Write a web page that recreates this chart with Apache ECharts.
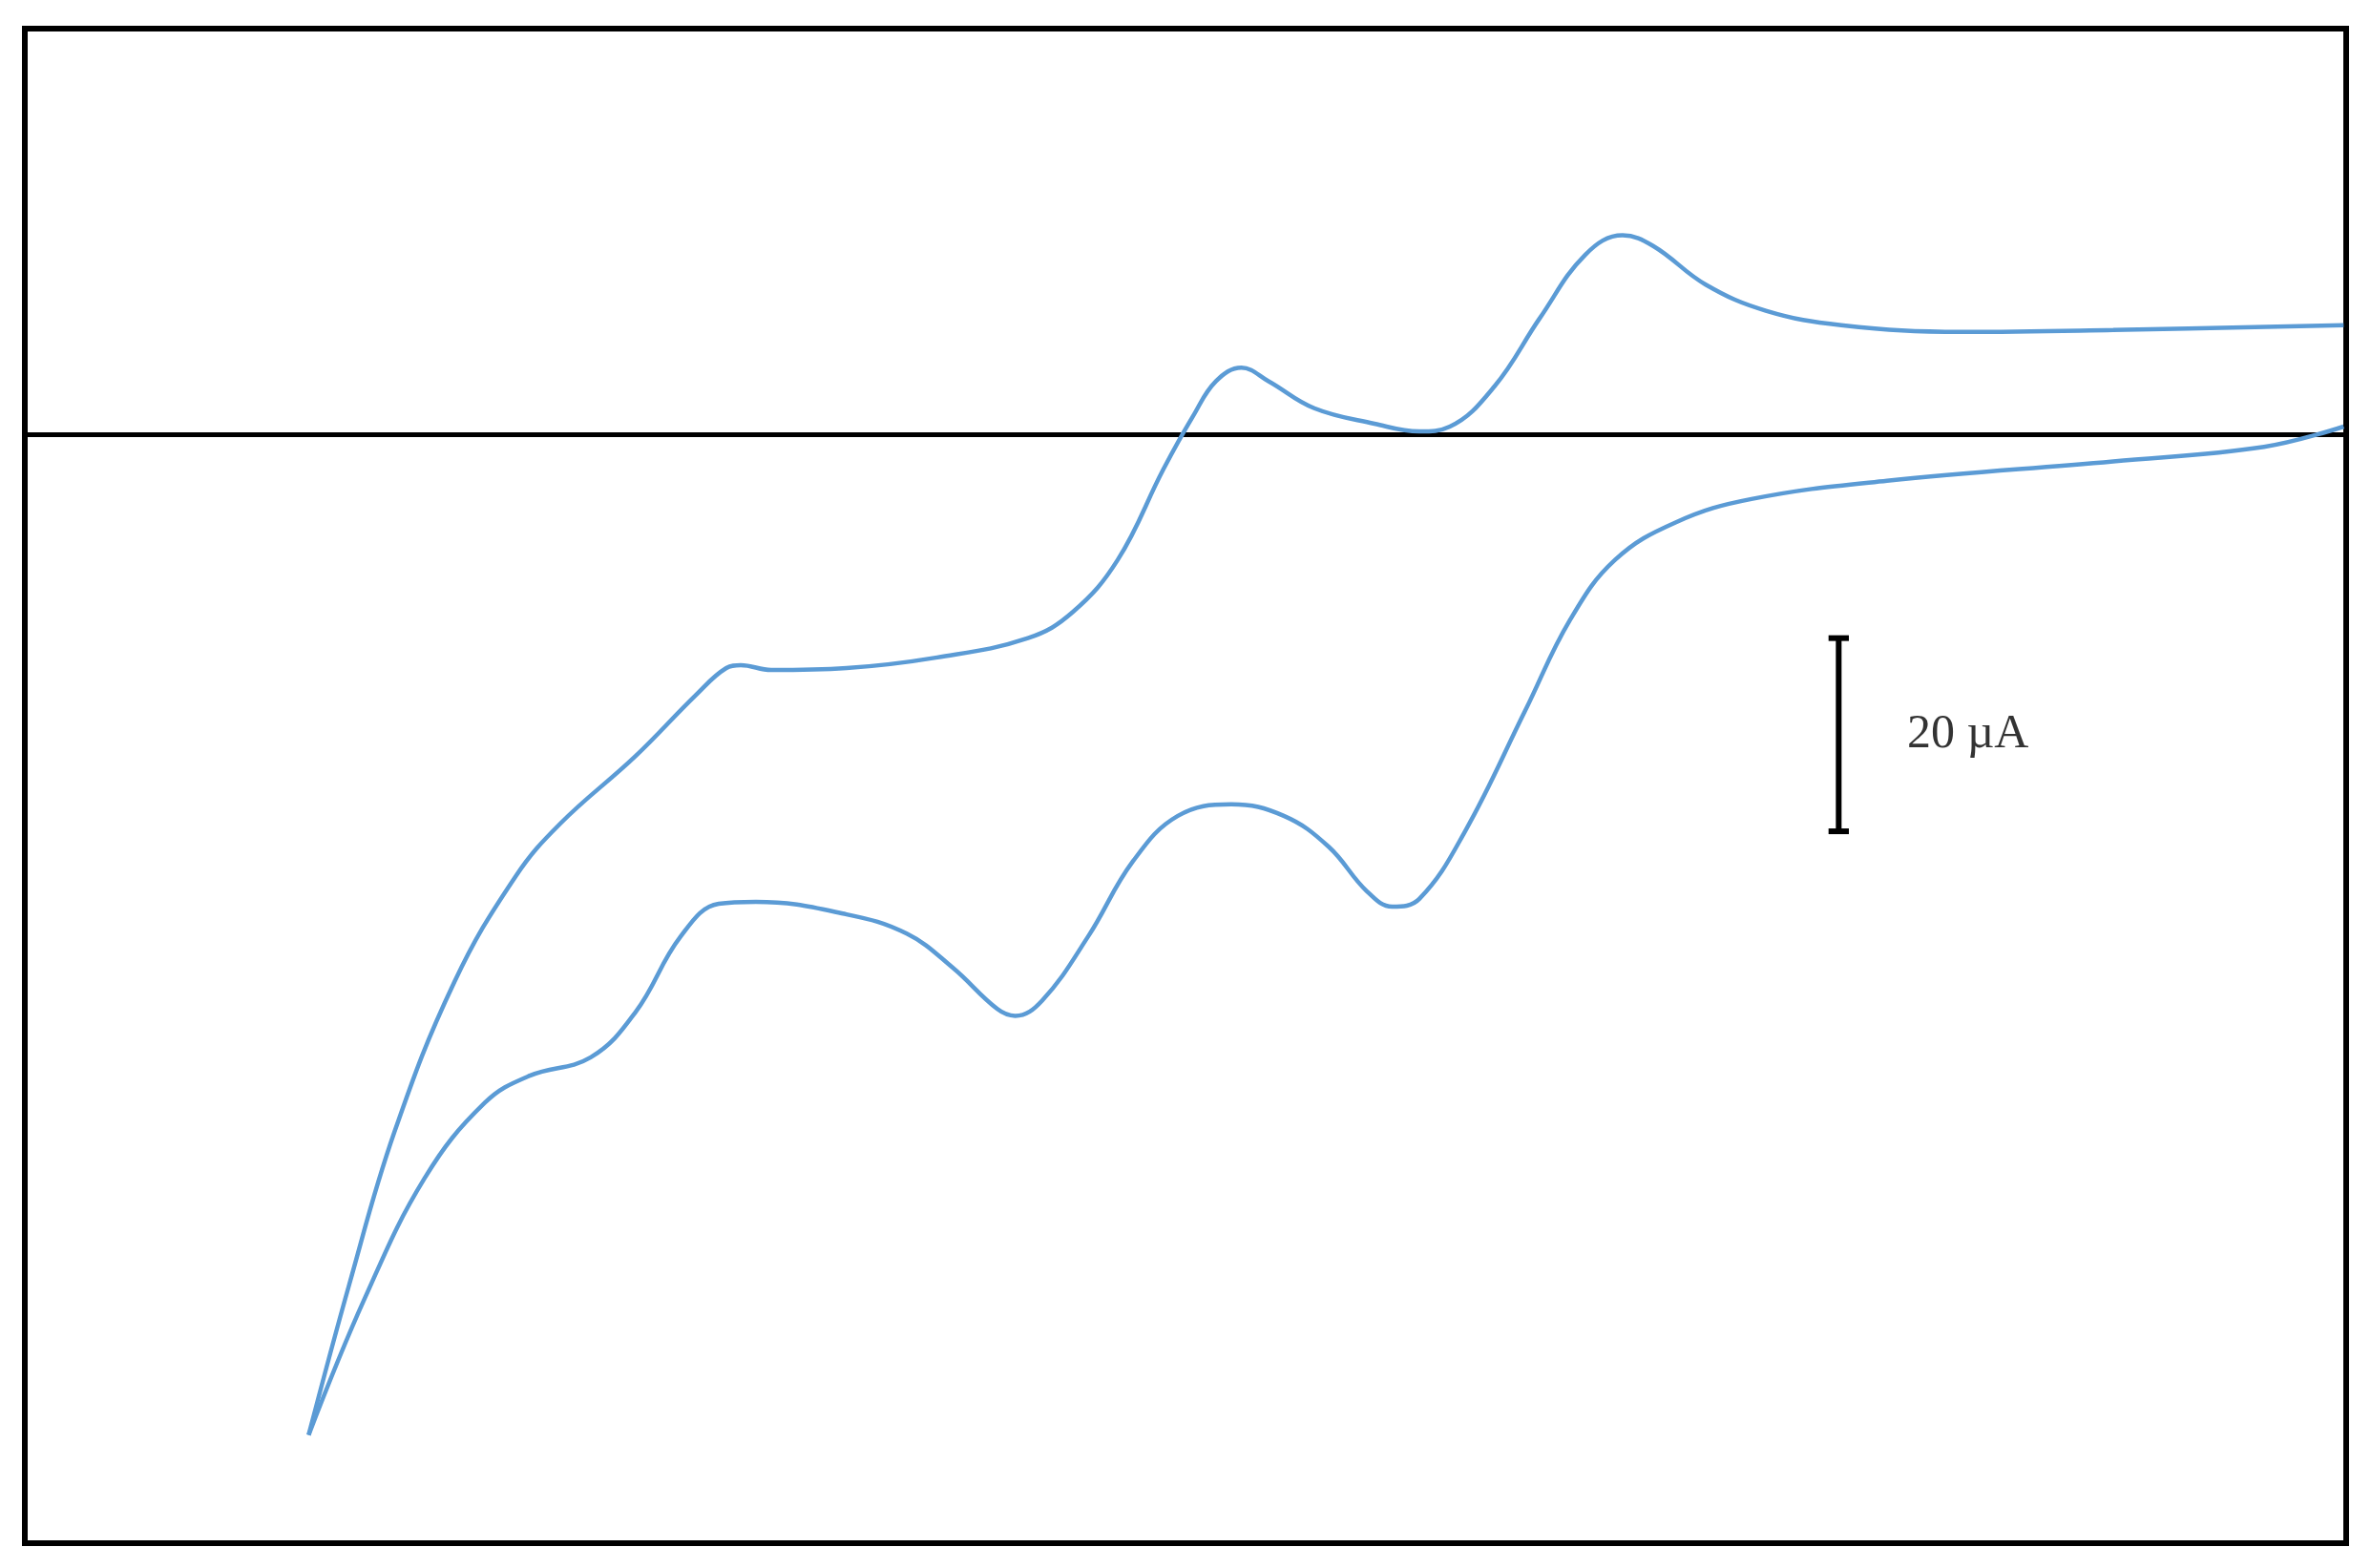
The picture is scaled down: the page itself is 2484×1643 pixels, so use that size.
<!DOCTYPE html>
<html>
<head>
<meta charset="utf-8">
<script src="https://cdn.jsdelivr.net/npm/echarts@6/dist/echarts.min.js"></script>
<style>html,body{margin:0;padding:0;background:#fff}#main{width:2484px;height:1643px}</style>
</head>
<body>
<div id="main"></div>
<script>
// upper branch (potential V, current µA)
var upperE = [-2.393,-2.345,-2.292,-2.221,-2.149,-2.096,-2.007,-1.936,-1.900,-1.883,-1.847,-1.758,-1.651,-1.544,-1.491,-1.438,-1.384,-1.349,-1.322,-1.292,-1.260,-1.206,-1.135,-1.082,-1.046,-0.993,-0.940,-0.886,-0.842,-0.806,-0.744,-0.673,-0.584,-0.441,-0.263,0.009];
var upperI = [-103.6,-88.0,-72.3,-56.7,-45.8,-40.3,-33.3,-27.0,-24.2,-23.9,-24.4,-24.2,-23.1,-21.1,-18.4,-13.0,-3.6,1.9,5.5,6.9,5.5,2.7,1.1,0.3,0.8,5.0,12.0,18.6,20.6,19.5,15.5,12.8,11.3,10.6,10.8,11.3];
// lower branch
var lowerE = [-2.393,-2.327,-2.256,-2.185,-2.132,-2.060,-2.007,-1.954,-1.909,-1.865,-1.758,-1.687,-1.633,-1.580,-1.559,-1.527,-1.473,-1.420,-1.367,-1.304,-1.242,-1.189,-1.144,-1.114,-1.082,-1.028,-0.957,-0.904,-0.851,-0.779,-0.690,-0.530,-0.263,-0.085,0.009];
var lowerI = [-103.6,-89.5,-77.0,-69.2,-66.4,-64.5,-59.8,-52.0,-48.6,-48.4,-49.7,-51.7,-55.2,-59.5,-60.2,-58.6,-52.0,-44.2,-39.5,-38.3,-39.5,-42.7,-47.3,-48.9,-48.1,-41.1,-28.6,-19.2,-13.0,-9.1,-6.7,-4.8,-2.8,-1.3,0.8];
var tickValues = [-2.5, -2, -1.5, -1, -0.5];
var scaleBarE = -0.587, scaleBarTop = -21.1, scaleBarBottom = -41.1, scaleLabel = '20 µA';

function zip(a, b) { return a.map(function (v, i) { return [v, b[i]]; }); }

var blue = '#5b9bd5';
var chart = echarts.init(document.getElementById('main'));
chart.setOption({
    animation: false,
    grid: { left: 26, right: 26, top: 30, bottom: 26, containLabel: false, outerBoundsMode: 'none',
        show: true, borderColor: '#000', borderWidth: 6 },
    xAxis: {
        type: 'value', min: -2.728, max: 0.012, interval: 0.5,
        axisLine: { onZero: true, lineStyle: { color: '#000', width: 5 } },
        axisTick: { show: false }, splitLine: { show: false },
        axisLabel: {
            fontFamily: 'Liberation Sans', fontSize: 42, color: '#000', margin: 50,
            customValues: tickValues,
            formatter: function (v) { return v.toString().replace('-', '\u2013'); }
        }
    },
    yAxis: { type: 'value', min: -114.8, max: 42, axisLine: { show: false }, axisTick: { show: false },
        axisLabel: { show: false }, splitLine: { show: false } },
    series: [
        { type: 'line', data: zip(upperE, upperI), smooth: 0.4, symbol: 'none', lineStyle: { color: blue, width: 4.5 } },
        { type: 'line', data: zip(lowerE, lowerI), smooth: 0.4, symbol: 'none', lineStyle: { color: blue, width: 4.5 } },
        { type: 'line', data: [[scaleBarE, scaleBarTop], [scaleBarE, scaleBarBottom]], symbol: 'none', lineStyle: { color: '#000', width: 6 } },
        { type: 'line', data: [[scaleBarE - 0.012, scaleBarTop], [scaleBarE + 0.012, scaleBarTop]], symbol: 'none', lineStyle: { color: '#000', width: 6 } },
        { type: 'line', data: [[scaleBarE - 0.012, scaleBarBottom], [scaleBarE + 0.012, scaleBarBottom]], symbol: 'none', lineStyle: { color: '#000', width: 6 } },
        {
            type: 'scatter', symbolSize: 0, data: [[scaleBarE + 0.075, (scaleBarTop + scaleBarBottom) / 2]],
            label: { show: true, position: 'right', formatter: scaleLabel, fontFamily: 'Liberation Serif', fontSize: 50, color: '#000' }
        }
    ]
});
</script>
</body>
</html>
